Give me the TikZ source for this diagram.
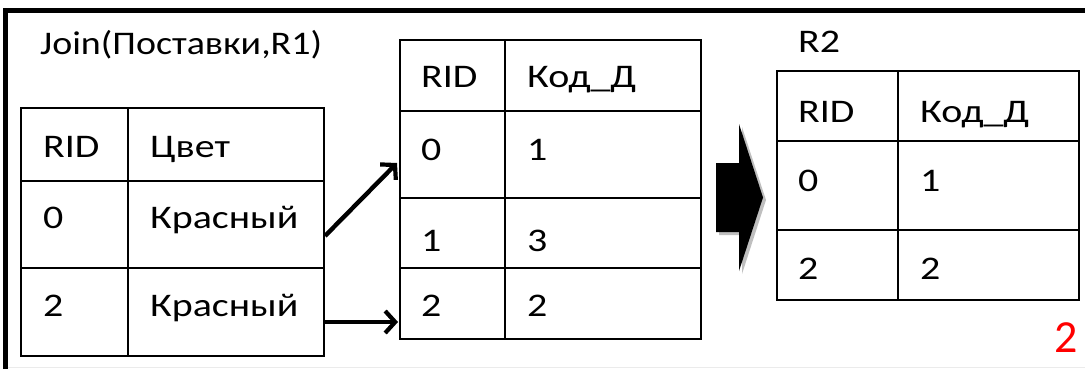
\documentclass[tikz,border=0pt]{standalone}
\usepackage{fontspec}
\setmainfont{Carlito}
\newfontfamily\tblfont{Carlito}[FakeStretch=1.21]
\newfontfamily\ttlfont{Carlito}[FakeStretch=1.15]
\usetikzlibrary{arrows.meta}
\tikzset{
  tbl/.style={line width=1.8pt, black},
  txt/.style={anchor=base west, inner sep=0pt, font=\tblfont\fontsize{33}{36}\selectfont},
  ttl/.style={anchor=base west, inner sep=0pt, font=\ttlfont\fontsize{33}{36}\selectfont},
  link/.style={line width=4.4pt, -{Straight Barb[length=10pt,width=22pt,line width=4.2pt]}},
  frame/.style={line width=4.8pt, black},
  blockarrow/.style={fill=black, draw=none}
}
\begin{document}
\begin{tikzpicture}[x=1pt,y=-1pt]
\useasboundingbox (0,0) rectangle (1085,369);
% frame
\draw[frame] (5.5,369) -- (5.5,10.5) -- (1085,10.5);
\draw[black!8, line width=1pt] (8,367.5) -- (1085,367.5);
% title
\node[ttl] (title) at (40,55) {Join(Поставки,R1)};
% left table
\draw[tbl] (21,108) rectangle (324,356);
\draw[tbl] (128,108) -- (128,356);
\draw[tbl] (21,181) -- (324,181);
\draw[tbl] (21,268) -- (324,268);
\node[txt] (l00) at (43,157) {RID};
\node[txt] (l01) at (150,157) {Цвет};
\node[txt] (l10) at (43,228) {0};
\node[txt] (l11) at (150,228) {Красный};
\node[txt] (l20) at (43,316) {2};
\node[txt] (l21) at (150,316) {Красный};
% middle table
\draw[tbl] (400,40) rectangle (701,339);
\draw[tbl] (505,40) -- (505,339);
\draw[tbl] (400,111) -- (701,111);
\draw[tbl] (400,198) -- (701,198);
\draw[tbl] (400,268) -- (701,268);
\node[txt] (m00) at (421,88) {RID};
\node[txt] (m01) at (527,88) {Код\_Д};
\node[txt] (m10) at (421,160) {0};
\node[txt] (m11) at (527,160) {1};
\node[txt] (m20) at (421,251) {1};
\node[txt] (m21) at (527,251) {3};
\node[txt] (m30) at (421,316) {2};
\node[txt] (m31) at (527,316) {2};
% right table
\node[txt] (r2) at (798,53) {R2};
\draw[tbl] (777,71) rectangle (1079,300);
\draw[tbl] (898,71) -- (898,300);
\draw[tbl] (777,141) -- (1079,141);
\draw[tbl] (777,230) -- (1079,230);
\node[txt] (r00) at (798,122) {RID};
\node[txt] (r01) at (920,122) {Код\_Д};
\node[txt] (r10) at (798,191) {0};
\node[txt] (r11) at (920,191) {1};
\node[txt] (r20) at (798,279) {2};
\node[txt] (r21) at (920,279) {2};
% arrows
\coordinate (a1s) at (325,236);
\coordinate (a1e) at (397,163);
\coordinate (a2s) at (325,322);
\coordinate (a2e) at (398,322);
\draw[link] (a1s) -- (a1e);
\draw[link] (a2s) -- (a2e);
% block arrow
\fill[black!25] (719,166) -- (742,166) -- (742,127) -- (766,200) -- (742,274) -- (742,235) -- (719,235) -- cycle;
\fill[blockarrow] (716,163) -- (739,163) -- (739,124) -- (763,197.5) -- (739,271) -- (739,232) -- (716,232) -- cycle;
% page number
\node[anchor=base west, inner sep=0pt, text=red, font=\fontsize{46}{50}\selectfont] (pg) at (1054,352) {2};
\end{tikzpicture}
\end{document}
